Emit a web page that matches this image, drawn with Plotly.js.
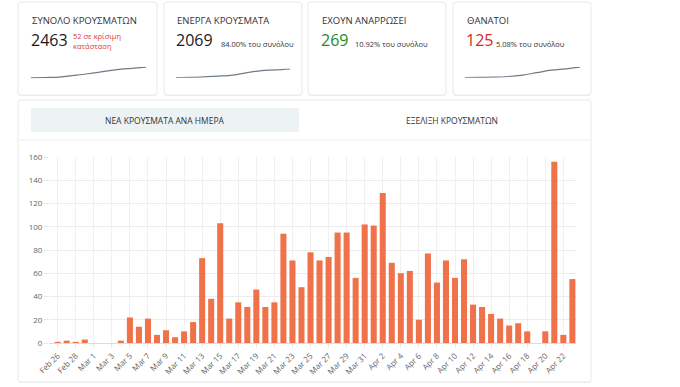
<!DOCTYPE html>
<html>
<head>
<meta charset="utf-8">
<script src="https://cdn.plot.ly/plotly-3.0.1.min.js"></script>
<style>
html,body{margin:0;padding:0;background:#fff;}
#chart{width:680px;height:387px;}
</style>
</head>
<body>
<div id="chart"></div>
<script>
// ---- Data ----
const dates = [
  "Feb 26","Feb 27","Feb 28","Feb 29",
  "Mar 1","Mar 2","Mar 3","Mar 4","Mar 5","Mar 6","Mar 7","Mar 8","Mar 9","Mar 10",
  "Mar 11","Mar 12","Mar 13","Mar 14","Mar 15","Mar 16","Mar 17","Mar 18","Mar 19","Mar 20",
  "Mar 21","Mar 22","Mar 23","Mar 24","Mar 25","Mar 26","Mar 27","Mar 28","Mar 29","Mar 30","Mar 31",
  "Apr 1","Apr 2","Apr 3","Apr 4","Apr 5","Apr 6","Apr 7","Apr 8","Apr 9","Apr 10",
  "Apr 11","Apr 12","Apr 13","Apr 14","Apr 15","Apr 16","Apr 17","Apr 18","Apr 19","Apr 20",
  "Apr 21","Apr 22","Apr 23"
];
const newCases = [
  1,2,1,3,
  0,0,0,2,22,14,21,7,11,5,
  10,18,73,38,103,21,35,31,46,31,
  35,94,71,48,78,71,74,95,95,56,102,
  101,129,69,60,62,20,77,52,71,56,
  72,33,31,25,21,15,17,10,0,10,
  156,7,55
];
const tickDates = dates.filter((d, i) => i % 2 === 0);
const yTicks = [0,20,40,60,80,100,120,140,160];

// KPI cards
const cardTitles = ["ΣΥΝΟΛΟ ΚΡΟΥΣΜΑΤΩΝ","ΕΝΕΡΓΑ ΚΡΟΥΣΜΑΤΑ","ΕΧΟΥΝ ΑΝΑΡΡΩΣΕΙ","ΘΑΝΑΤΟΙ"];
const cardValues = ["2463","2069","269","125"];
const cardNotes = ["52 σε κρίσιμη<br>κατάσταση","84.00% του συνόλου","10.92% του συνόλου","5.08% του συνόλου"];
const tabLabels = ["ΝΕΑ ΚΡΟΥΣΜΑΤΑ ΑΝΑ ΗΜΕΡΑ","ΕΞΕΛΙΞΗ ΚΡΟΥΣΜΑΤΩΝ"];

// sparklines (relative heights)
const sparkTotal  = [0,1,2.5,7,12,18,24,27.5,31];
const sparkActive = [0,0.5,2,4,7,14,20,22,25];
const sparkDeaths = [0,0.5,1,3,7,14,21,25,30];

// ---- Layout helpers ----
const W = 680, H = 387;
const px = x => x / W;
const py = y => 1 - y / H;

function roundRect(x0, y0, x1, y1, r) {
  const X = v => px(v).toFixed(5), Y = v => py(v).toFixed(5);
  return `M${X(x0+r)},${Y(y0)} L${X(x1-r)},${Y(y0)} Q${X(x1)},${Y(y0)} ${X(x1)},${Y(y0+r)} ` +
         `L${X(x1)},${Y(y1-r)} Q${X(x1)},${Y(y1)} ${X(x1-r)},${Y(y1)} ` +
         `L${X(x0+r)},${Y(y1)} Q${X(x0)},${Y(y1)} ${X(x0)},${Y(y1-r)} ` +
         `L${X(x0)},${Y(y0+r)} Q${X(x0)},${Y(y0)} ${X(x0+r)},${Y(y0)} Z`;
}

const cardBoxes = [[18,2,157,95],[164,2,302,95],[308,2,446,95],[453,2,591,95]];
const textX = [30,175,320,465];
const noteX = [71,219,353,494];
const valueColors = ["#1a1a1a","#1a1a1a","#1e8a2a","#d32a2a"];
const noteColors = ["#e0393e","#333","#333","#333"];

const shapes = [];
const annotations = [];

cardBoxes.forEach((b, i) => {
  shapes.push({type:'path', xref:'paper', yref:'paper', path: roundRect(b[0], b[1]+1, b[2], b[3]+1, 3),
    fillcolor:'#f1f1f1', line:{width:0}, layer:'below'});
  shapes.push({type:'path', xref:'paper', yref:'paper', path: roundRect(b[0], b[1], b[2], b[3], 3),
    fillcolor:'#ffffff', line:{color:'#e9e9e9', width:1}, layer:'below'});
  annotations.push({xref:'paper', yref:'paper', x:px(textX[i]), y:py(20), xanchor:'left', yanchor:'middle',
    text: cardTitles[i], showarrow:false, font:{family:'Open Sans, sans-serif', size:9.5, color:'#333'}});
  annotations.push({xref:'paper', yref:'paper', x:px(textX[i]-1), y:py(40), xanchor:'left', yanchor:'middle',
    text: cardValues[i], showarrow:false, font:{family:'Open Sans, sans-serif', size:16, color:valueColors[i]}});
});
// notes
annotations.push({xref:'paper', yref:'paper', x:px(noteX[0]), y:py(41), xanchor:'left', yanchor:'middle', align:'left',
  text: cardNotes[0], showarrow:false, font:{family:'Open Sans, sans-serif', size:7.5, color:noteColors[0]}});
for (let i = 1; i < 4; i++) {
  annotations.push({xref:'paper', yref:'paper', x:px(noteX[i]), y:py(44), xanchor:'left', yanchor:'middle',
    text: cardNotes[i], showarrow:false, font:{family:'Open Sans, sans-serif', size:7.5, color:noteColors[i]}});
}

// main panel
shapes.push({type:'path', xref:'paper', yref:'paper', path: roundRect(18,101,591,383,3),
  fillcolor:'#f1f1f1', line:{width:0}, layer:'below'});
shapes.push({type:'path', xref:'paper', yref:'paper', path: roundRect(18,100,591,382,3),
  fillcolor:'#ffffff', line:{color:'#e9e9e9', width:1}, layer:'below'});
shapes.push({type:'rect', xref:'paper', yref:'paper', x0:px(31), x1:px(299), y0:py(132), y1:py(108),
  fillcolor:'#edf2f4', line:{width:0}, layer:'below'});
shapes.push({type:'line', xref:'paper', yref:'paper', x0:px(19), x1:px(590), y0:py(140), y1:py(140),
  line:{color:'#ececec', width:1}, layer:'below'});
annotations.push({xref:'paper', yref:'paper', x:px(165), y:py(120), xanchor:'center', yanchor:'middle',
  text: tabLabels[0], showarrow:false, font:{family:'Open Sans, sans-serif', size:8.5, color:'#333'}});
annotations.push({xref:'paper', yref:'paper', x:px(452), y:py(120), xanchor:'center', yanchor:'middle',
  text: tabLabels[1], showarrow:false, font:{family:'Open Sans, sans-serif', size:8.5, color:'#333'}});

// ---- Traces ----
const bar = {
  type:'bar', x: dates, y: newCases, xaxis:'x', yaxis:'y',
  marker:{color:'#f0724a'}, hoverinfo:'x+y'
};
const sparkX = arr => arr.map((_, i) => i);
const sparkLine = (vals, xa, ya) => ({
  type:'scatter', mode:'lines', x: sparkX(vals), y: vals, xaxis:xa, yaxis:ya,
  line:{color:'#6e7b88', width:1.2, shape:'spline'}, hoverinfo:'skip'
});

const traces = [
  bar,
  sparkLine(sparkTotal, 'x2', 'y2'),
  sparkLine(sparkActive, 'x3', 'y3'),
  sparkLine(sparkDeaths, 'x4', 'y4')
];

const hidden = {visible:false, fixedrange:true};
const layout = {
  width: W, height: H,
  margin:{l:0, r:0, t:0, b:0},
  paper_bgcolor:'#ffffff', plot_bgcolor:'rgba(0,0,0,0)',
  showlegend:false,
  bargap:0.33,
  xaxis:{
    domain:[px(49), px(576)], anchor:'y', type:'category',
    range:[-0.96, 57.4],
    tickmode:'array', tickvals: tickDates, ticktext: tickDates,
    tickangle:-45, tickfont:{family:'Open Sans, sans-serif', size:8, color:'#666'},
    showgrid:true, gridcolor:'#f0f0f0', gridwidth:1,
    ticks:'outside', ticklen:4, tickcolor:'#e6e6e6',
    showline:false, zeroline:false
  },
  yaxis:{
    domain:[py(343), py(157)], anchor:'x',
    range:[0,160], tickmode:'array', tickvals: yTicks,
    tickfont:{family:'Open Sans, sans-serif', size:8, color:'#666'},
    showgrid:true, gridcolor:'#ececec', gridwidth:1,
    ticks:'outside', ticklen:4, tickcolor:'#e6e6e6',
    zeroline:true, zerolinecolor:'#dcdcdc', zerolinewidth:1
  },
  xaxis2:Object.assign({domain:[px(30.7), px(146)], anchor:'y2', range:[0, sparkTotal.length-1]}, hidden),
  yaxis2:Object.assign({domain:[py(78.2), py(66.8)], anchor:'x2', range:[-0.8, 31.8]}, hidden),
  xaxis3:Object.assign({domain:[px(175.7), px(290)], anchor:'y3', range:[0, sparkActive.length-1]}, hidden),
  yaxis3:Object.assign({domain:[py(77.8), py(68.5)], anchor:'x3', range:[-0.8, 25.8]}, hidden),
  xaxis4:Object.assign({domain:[px(465), px(580)], anchor:'y4', range:[0, sparkDeaths.length-1]}, hidden),
  yaxis4:Object.assign({domain:[py(77.8), py(66.8)], anchor:'x4', range:[-0.8, 30.8]}, hidden),
  shapes: shapes,
  annotations: annotations
};

Plotly.newPlot('chart', traces, layout, {displayModeBar:false, staticPlot:true});
</script>
</body>
</html>
